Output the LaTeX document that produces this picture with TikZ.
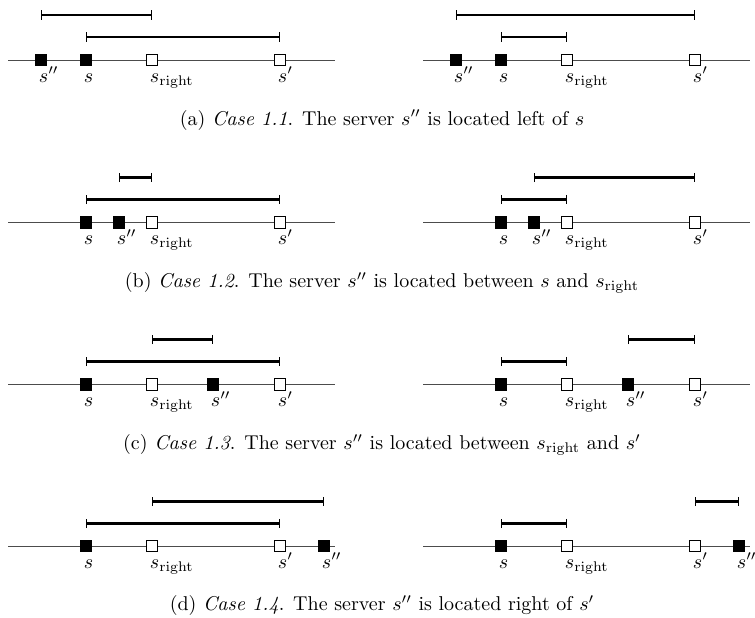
\documentclass[tikz,border=0pt]{standalone}
\usetikzlibrary{arrows.meta}

% a server marker at #3 named #2, with its name #4 set below it
\newcommand\srv[4]{%
  \node[#1] (#2) at (#3) {};
  \node[lab] (#2-l) at ([shift={(-2.5,22)}]#2.center) {#4};}

\tikzset{
  axisline/.style={line width=0.5pt, black!70},
  occ/.style={draw=black, fill=black, minimum size=5.8pt, inner sep=0pt, line width=0.4pt},
  free/.style={draw=black, fill=white, minimum size=5.8pt, inner sep=0pt, line width=0.4pt},
  lab/.style={anchor=base west, inner sep=0pt, font=\fontsize{10}{12}\selectfont},
  interval/.style={line width=1.1pt,
    {Bar[width=4.6pt,line width=0.5pt]}-{Bar[width=4.6pt,line width=0.5pt]}},
  subcap/.style={anchor=base, inner sep=0pt, font=\fontsize{10}{12}\selectfont}
}

\begin{document}
\begin{tikzpicture}[x=0.5pt, y=-0.5pt]
\useasboundingbox (0,0) rectangle (755,617);

% ---------- (a) ----------
\coordinate (aT) at (0,15); \coordinate (aB) at (0,37);
\coordinate (aL0) at (8,60);   \coordinate (aL1) at (335,60);
\coordinate (aR0) at (423,60); \coordinate (aR1) at (750,60);
\draw[axisline] (aL0) -- (aL1);
\draw[axisline] (aR0) -- (aR1);
\srv{occ}{aLspp}{41,60}{$s''$}
\srv{occ}{aLs}{86,60}{$s$}
\srv{free}{aLsr}{152,60}{$s_{\mathrm{right}}$}
\srv{free}{aLsp}{280,60}{$s'$}
\draw[interval] (aLspp |- aT) -- (aLsr |- aT);
\draw[interval] (aLs |- aB) -- (aLsp |- aB);
\srv{occ}{aRspp}{456,60}{$s''$}
\srv{occ}{aRs}{501,60}{$s$}
\srv{free}{aRsr}{567,60}{$s_{\mathrm{right}}$}
\srv{free}{aRsp}{695,60}{$s'$}
\draw[interval] (aRspp |- aT) -- (aRsp |- aT);
\draw[interval] (aRs |- aB) -- (aRsr |- aB);
\node[subcap] (capa) at (382,125)
  {(a)\ \textit{Case 1.1}. The server $s''$ is located left of $s$};

% ---------- (b) ----------
\coordinate (bT) at (0,177.5); \coordinate (bB) at (0,199.5);
\coordinate (bL0) at (8,222.5);   \coordinate (bL1) at (335,222.5);
\coordinate (bR0) at (423,222.5); \coordinate (bR1) at (750,222.5);
\draw[axisline] (bL0) -- (bL1);
\draw[axisline] (bR0) -- (bR1);
\srv{occ}{bLs}{86,222.5}{$s$}
\srv{occ}{bLspp}{119,222.5}{$s''$}
\srv{free}{bLsr}{152,222.5}{$s_{\mathrm{right}}$}
\srv{free}{bLsp}{280,222.5}{$s'$}
\draw[interval] (bLspp |- bT) -- (bLsr |- bT);
\draw[interval] (bLs |- bB) -- (bLsp |- bB);
\srv{occ}{bRs}{501,222.5}{$s$}
\srv{occ}{bRspp}{534,222.5}{$s''$}
\srv{free}{bRsr}{567,222.5}{$s_{\mathrm{right}}$}
\srv{free}{bRsp}{695,222.5}{$s'$}
\draw[interval] (bRspp |- bT) -- (bRsp |- bT);
\draw[interval] (bRs |- bB) -- (bRsr |- bB);
\node[subcap] (capb) at (382,287.5)
  {(b)\ \textit{Case 1.2}. The server $s''$ is located between $s$ and $s_{\mathrm{right}}$};

% ---------- (c) ----------
\coordinate (cT) at (0,339.5); \coordinate (cB) at (0,361.5);
\coordinate (cL0) at (8,384.5);   \coordinate (cL1) at (335,384.5);
\coordinate (cR0) at (423,384.5); \coordinate (cR1) at (750,384.5);
\draw[axisline] (cL0) -- (cL1);
\draw[axisline] (cR0) -- (cR1);
\srv{occ}{cLs}{86,384.5}{$s$}
\srv{free}{cLsr}{152,384.5}{$s_{\mathrm{right}}$}
\srv{occ}{cLspp}{213,384.5}{$s''$}
\srv{free}{cLsp}{280,384.5}{$s'$}
\draw[interval] (cLsr |- cT) -- (cLspp |- cT);
\draw[interval] (cLs |- cB) -- (cLsp |- cB);
\srv{occ}{cRs}{501,384.5}{$s$}
\srv{free}{cRsr}{567,384.5}{$s_{\mathrm{right}}$}
\srv{occ}{cRspp}{628,384.5}{$s''$}
\srv{free}{cRsp}{695,384.5}{$s'$}
\draw[interval] (cRspp |- cT) -- (cRsp |- cT);
\draw[interval] (cRs |- cB) -- (cRsr |- cB);
\node[subcap] (capc) at (382,449.5)
  {(c)\ \textit{Case 1.3}. The server $s''$ is located between $s_{\mathrm{right}}$ and $s'$};

% ---------- (d) ----------
\coordinate (dT) at (0,501.5); \coordinate (dB) at (0,523.5);
\coordinate (dL0) at (8,546);   \coordinate (dL1) at (335,546);
\coordinate (dR0) at (423,546); \coordinate (dR1) at (750,546);
\draw[axisline] (dL0) -- (dL1);
\draw[axisline] (dR0) -- (dR1);
\srv{occ}{dLs}{86,546}{$s$}
\srv{free}{dLsr}{152,546}{$s_{\mathrm{right}}$}
\srv{free}{dLsp}{280,546}{$s'$}
\srv{occ}{dLspp}{324,546}{$s''$}
\draw[interval] (dLsr |- dT) -- (dLspp |- dT);
\draw[interval] (dLs |- dB) -- (dLsp |- dB);
\srv{occ}{dRs}{501,546}{$s$}
\srv{free}{dRsr}{567,546}{$s_{\mathrm{right}}$}
\srv{free}{dRsp}{695,546}{$s'$}
\srv{occ}{dRspp}{739,546}{$s''$}
\draw[interval] (dRsp |- dT) -- (dRspp |- dT);
\draw[interval] (dRs |- dB) -- (dRsr |- dB);
\node[subcap] (capd) at (382,610.5)
  {(d)\ \textit{Case 1.4}. The server $s''$ is located right of $s'$};
\end{tikzpicture}
\end{document}
